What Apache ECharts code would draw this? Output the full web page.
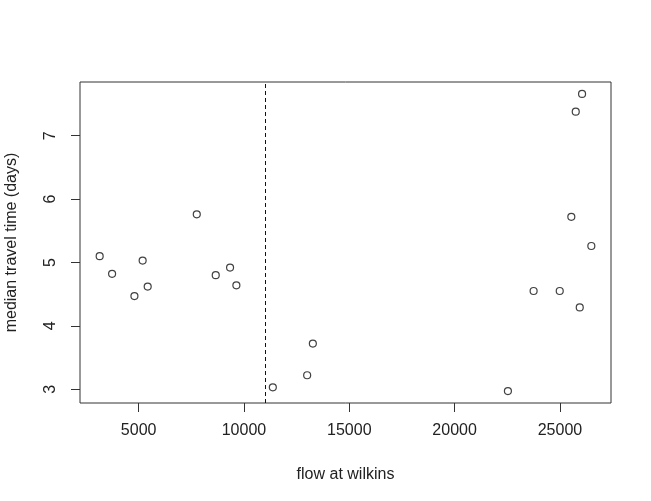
<!DOCTYPE html>
<html>
<head>
<meta charset="utf-8">
<script src="https://cdn.jsdelivr.net/npm/echarts@6/dist/echarts.min.js"></script>
<style>
html,body{margin:0;padding:0;background:#fff;}
#chart{width:651px;height:501px;}
</style>
</head>
<body>
<div id="chart"></div>
<script>
// Data
var flow = [3150, 3740, 4800, 5190, 5430, 7760, 8660, 9340, 9640, 11370, 13000, 13270, 22530, 23750, 24990, 25540, 25750, 25940, 26050, 26490];
var travelTime = [5.10, 4.82, 4.47, 5.03, 4.62, 5.76, 4.80, 4.92, 4.64, 3.03, 3.22, 3.72, 2.97, 4.55, 4.55, 5.72, 7.38, 4.29, 7.66, 5.26];
var xTicks = [5000, 10000, 15000, 20000, 25000];
var yTicks = [3, 4, 5, 6, 7];
var cutoff = 11000;
var xTitle = 'flow at wilkins';
var yTitle = 'median travel time (days)';

var points = flow.map(function (f, i) { return [f, travelTime[i]]; });

// R-style 4% padding of the data range
function padRange(arr) {
  var mn = Math.min.apply(null, arr), mx = Math.max.apply(null, arr);
  var d = (mx - mn) * 0.04;
  return [mn - d, mx + d];
}
var xr = padRange(flow), yr = padRange(travelTime);

var font = 'Liberation Sans, Arial, sans-serif';
var chart = echarts.init(document.getElementById('chart'), null, {renderer: 'canvas'});
chart.setOption({
  backgroundColor: '#ffffff',
  animation: false,
  grid: {
    left: 80, right: 40, top: 82, bottom: 98,
    containLabel: false, outerBoundsMode: 'none',
    show: true, borderColor: '#333', borderWidth: 1, backgroundColor: 'transparent'
  },
  xAxis: {
    type: 'value', min: xr[0], max: xr[1],
    name: xTitle, nameLocation: 'middle', nameGap: 64,
    nameTextStyle: {fontFamily: font, fontSize: 16, color: '#222'},
    axisLine: {show: false},
    splitLine: {show: false},
    axisTick: {show: true, length: 9, customValues: xTicks, lineStyle: {color: '#333'}},
    axisLabel: {customValues: xTicks, fontFamily: font, fontSize: 16, color: '#222', margin: 20,
                formatter: function (v) { return String(v); }}
  },
  yAxis: {
    type: 'value', min: yr[0], max: yr[1],
    name: yTitle, nameLocation: 'middle', nameGap: 60, nameRotate: 90,
    nameTextStyle: {fontFamily: font, fontSize: 16, color: '#222'},
    axisLine: {show: false},
    splitLine: {show: false},
    axisTick: {show: true, length: 9, customValues: yTicks, lineStyle: {color: '#333'}},
    axisLabel: {customValues: yTicks, rotate: 90, fontFamily: font, fontSize: 16, color: '#222', margin: 21,
                formatter: function (v) { return String(v); }}
  },
  series: [{
    type: 'scatter',
    data: points,
    symbol: 'circle',
    symbolSize: 7,
    itemStyle: {color: '#ffffff', borderColor: '#111', borderWidth: 1.2},
    markLine: {
      silent: true,
      symbol: ['none', 'none'],
      label: {show: false},
      lineStyle: {color: '#111', type: [4, 3], width: 1},
      data: [{xAxis: cutoff}]
    }
  }]
});
</script>
</body>
</html>
